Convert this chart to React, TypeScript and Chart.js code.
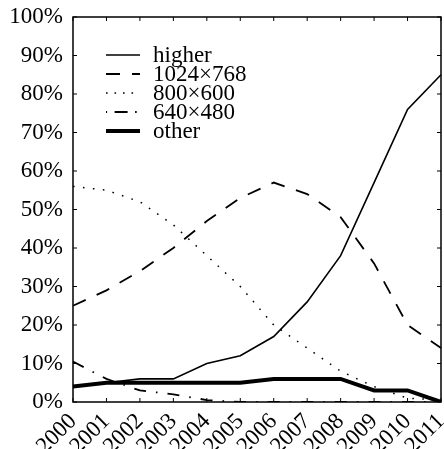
import React, { useEffect, useRef } from "react";
import { Chart, registerables } from "chart.js";

Chart.register(...registerables);

// Share of screen resolutions by year
const years = ["2000", "2001", "2002", "2003", "2004", "2005", "2006", "2007", "2008", "2009", "2010", "2011"];
const higher = [4, 5, 6, 6, 10, 12, 17, 26, 38, 57, 76, 85];
const res1024 = [25, 29, 34, 40, 47, 53, 57, 54, 48, 36, 20, 14];
const res800 = [56, 55, 52, 46, 38, 30, 20, 14, 8, 4, 1, 0.5];
const res640 = [10.5, 6, 3, 2, 0.5, 0, 0, 0, 0, 0, 0, 0];
const other = [4, 5, 5, 5, 5, 5, 6, 6, 6, 3, 3, 0];
const seriesNames = ["higher", "1024×768", "800×600", "640×480", "other"];
const yTickValues = [0, 10, 20, 30, 40, 50, 60, 70, 80, 90, 100];

const FONT = "'Liberation Serif', 'Times New Roman', serif";

type Styled = { width: number; dash: number[]; legendDash: number[]; legendOffset: number };
const styles: Styled[] = [
  { width: 1.6, dash: [], legendDash: [], legendOffset: 0 },
  { width: 1.8, dash: [14, 12], legendDash: [14, 12], legendOffset: 0 },
  { width: 1.5, dash: [1.6, 8.4], legendDash: [1.6, 6.9], legendOffset: 0 },
  { width: 1.8, dash: [12, 10, 1.6, 10], legendDash: [13, 7.5, 1.6, 7.5], legendOffset: 21 },
  { width: 4, dash: [], legendDash: [], legendOffset: 0 },
];

// Box around the plot with inward tick marks on all four sides
const framePlugin = {
  id: "frame",
  afterDatasetsDraw(chart: any) {
    const { ctx, chartArea } = chart;
    const { left, right, top, bottom } = chartArea;
    const xs = chart.scales.x;
    const ys = chart.scales.y;
    const len = 4;
    ctx.save();
    ctx.strokeStyle = "#000";
    ctx.lineWidth = 1.5;
    ctx.setLineDash([]);
    ctx.strokeRect(left, top, right - left, bottom - top);
    ctx.lineWidth = 1;
    ctx.beginPath();
    years.forEach((_, i) => {
      const x = xs.getPixelForValue(i);
      ctx.moveTo(x, bottom);
      ctx.lineTo(x, bottom - len);
      ctx.moveTo(x, top);
      ctx.lineTo(x, top + len);
    });
    yTickValues.forEach((v) => {
      const y = ys.getPixelForValue(v);
      ctx.moveTo(left, y);
      ctx.lineTo(left + len, y);
      ctx.moveTo(right, y);
      ctx.lineTo(right - len, y);
    });
    ctx.stroke();
    ctx.restore();
  },
};

// Legend drawn inside the upper-left part of the plot
const legendPlugin = {
  id: "insideLegend",
  afterDraw(chart: any) {
    const { ctx, chartArea } = chart;
    const x0 = chartArea.left + 33;
    const x1 = chartArea.left + 67;
    const tx = chartArea.left + 80;
    const y0 = chartArea.top + 38;
    const step = 19;
    ctx.save();
    ctx.strokeStyle = "#000";
    ctx.fillStyle = "#000";
    ctx.font = `23px ${FONT}`;
    ctx.textBaseline = "alphabetic";
    ctx.lineCap = "butt";
    chart.data.datasets.forEach((ds: any, i: number) => {
      const st = styles[i];
      const y = y0 + i * step;
      ctx.lineWidth = st.width;
      ctx.setLineDash(st.legendDash);
      ctx.lineDashOffset = st.legendOffset;
      ctx.beginPath();
      ctx.moveTo(x0, y);
      ctx.lineTo(x1, y);
      ctx.stroke();
      ctx.setLineDash([]);
      ctx.fillText(ds.label, tx, y + 6.7);
    });
    ctx.restore();
  },
};

export default function App() {
  const canvasRef = useRef<HTMLCanvasElement | null>(null);

  useEffect(() => {
    if (!canvasRef.current) return;
    const seriesData = [higher, res1024, res800, res640, other];
    const chart = new Chart(canvasRef.current, {
      type: "line",
      data: {
        labels: years,
        datasets: seriesData.map((d, i) => ({
          label: seriesNames[i],
          data: d,
          borderColor: "#000",
          backgroundColor: "#000",
          borderWidth: styles[i].width,
          borderDash: styles[i].dash,
          borderCapStyle: "butt",
          pointRadius: 0,
          tension: 0,
          fill: false,
        })),
      },
      options: {
        animation: false,
        responsive: false,
        maintainAspectRatio: false,
        events: [],
        layout: { padding: { top: 17, right: 3, left: 0, bottom: 0 } },
        plugins: {
          legend: { display: false },
          tooltip: { enabled: false },
          title: { display: false },
        },
        scales: {
          x: {
            type: "category",
            offset: false,
            grid: { display: false, drawTicks: false },
            border: { display: false },
            ticks: {
              autoSkip: false,
              minRotation: 45,
              maxRotation: 45,
              padding: 6,
              color: "#000",
              font: { family: FONT, size: 23 },
            },
            afterFit: (scale: any) => {
              scale.height = 47;
              scale.paddingLeft = 0;
              scale.paddingRight = 0;
            },
          },
          y: {
            min: 0,
            max: 100,
            grid: { display: false, drawTicks: false },
            border: { display: false },
            afterBuildTicks: (scale: any) => {
              scale.ticks = yTickValues.map((v) => ({ value: v }));
            },
            ticks: {
              padding: 10,
              color: "#000",
              font: { family: FONT, size: 23 },
              callback: (v: any) => `${v}%`,
            },
            afterFit: (scale: any) => {
              scale.width = 73;
              scale.paddingTop = 0;
              scale.paddingBottom = 0;
            },
          },
        },
      },
      plugins: [framePlugin, legendPlugin],
    });
    return () => chart.destroy();
  }, []);

  return (
    <div style={{ position: "fixed", left: 0, top: 0, width: 444, height: 449, background: "#fff" }}>
      <canvas ref={canvasRef} width={444} height={449} style={{ width: 444, height: 449 }} />
    </div>
  );
}
